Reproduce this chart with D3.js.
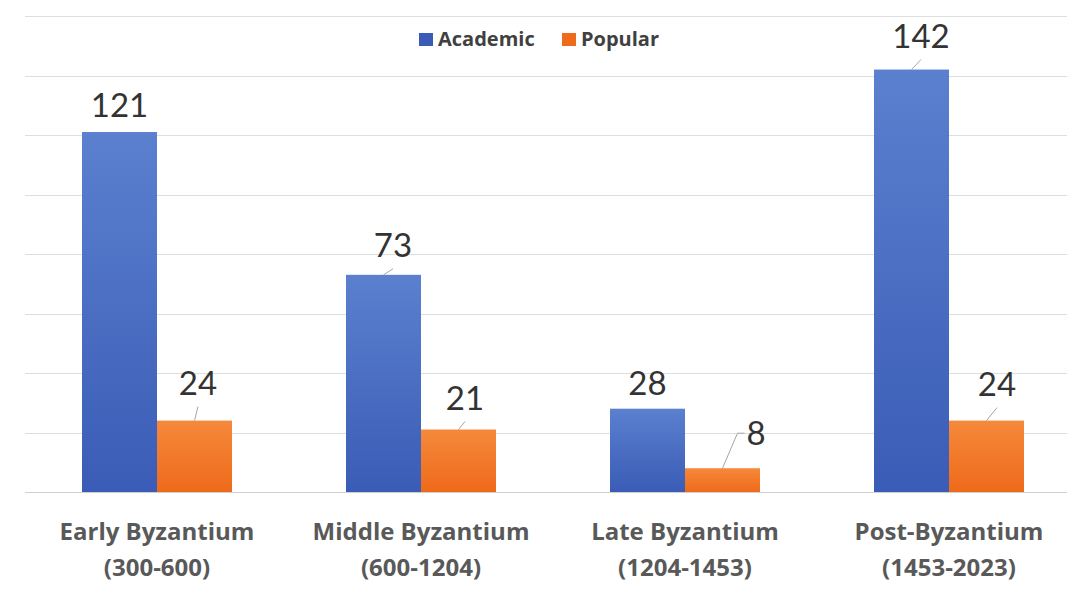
<!DOCTYPE html>
<meta charset="utf-8">
<script src="https://d3js.org/d3.v7.min.js"></script>
<style>
  body { margin: 0; background: #fff; }
  text { font-family: Lato, "Open Sans", sans-serif; }
</style>
<svg id="chart" width="1085" height="603"></svg>

<script>

// data
const periods = ["Early Byzantium", "Middle Byzantium", "Late Byzantium", "Post-Byzantium"];
const spans = ["(300-600)", "(600-1204)", "(1204-1453)", "(1453-2023)"];
const seriesNames = ["Academic", "Popular"];
const academic = [121, 73, 28, 142];
const popular = [24, 21, 8, 24];
const yTicks = [0, 20, 40, 60, 80, 100, 120, 140, 160];

// label nudges (layout only): [dx, dy] from bar top centre
const labelNudge = {
  Academic: [[0, -15], [9.5, -18], [0, -14], [9.5, -22]],
  Popular: [[3.5, -26], [6.5, -20], [0, 0], [10.5, -25]]
};

const svg = d3.select("#chart"),
  width = +svg.attr("width"),
  height = +svg.attr("height");

const margin = {left: 25, right: 4, top: 16, bottom: 111};

const x = d3.scaleBand()
  .domain(periods)
  .range([margin.left, width - margin.right])
  .paddingInner(0)
  .paddingOuter(0);

const x1 = d3.scaleBand()
  .domain(seriesNames)
  .range([0, 150]);

const y = d3.scaleLinear()
  .domain([0, 160])
  .range([height - margin.bottom, margin.top]);

const colors = {
  Academic: ["#5b80cf", "#3a5cb6"],
  Popular: ["#f5893b", "#ef6a1b"]
};

// gradients
const defs = svg.append("defs");
seriesNames.forEach(function(s) {
  const g = defs.append("linearGradient")
    .attr("id", "grad-" + s)
    .attr("x1", 0).attr("y1", 0).attr("x2", 0).attr("y2", 1);
  g.append("stop").attr("offset", "0%").attr("stop-color", colors[s][0]);
  g.append("stop").attr("offset", "100%").attr("stop-color", colors[s][1]);
});

// gridlines
svg.append("g")
  .selectAll("line")
  .data(yTicks)
  .join("line")
  .attr("x1", margin.left)
  .attr("x2", 1067)
  .attr("y1", d => Math.round(y(d)) + 0.5)
  .attr("y2", d => Math.round(y(d)) + 0.5)
  .attr("stroke", d => d === 0 ? "#cfcfcf" : "#dedede")
  .attr("stroke-width", 1);

// bars
const rows = [];
periods.forEach(function(p, i) {
  rows.push({period: p, series: "Academic", value: academic[i], i: i});
  rows.push({period: p, series: "Popular", value: popular[i], i: i});
});

const groupOffset = (x.bandwidth() - 150) / 2;

svg.append("g")
  .selectAll("rect")
  .data(rows)
  .join("rect")
  .attr("x", d => x(d.period) + groupOffset + x1(d.series))
  .attr("y", d => y(d.value))
  .attr("width", x1.bandwidth())
  .attr("height", d => y(0) - y(d.value))
  .attr("fill", d => "url(#grad-" + d.series + ")");

// value labels with leader lines
const lab = svg.append("g");
rows.forEach(function(d) {
  const cx = x(d.period) + groupOffset + x1(d.series) + x1.bandwidth() / 2;
  const top = y(d.value);
  if (d.series === "Popular" && d.value === 8) {
    // side label with elbow leader
    lab.append("polyline")
      .attr("points", [[cx, top], [cx + 15, top - 35], [cx + 22, top - 35]].map(p => p.join(",")).join(" "))
      .attr("fill", "none")
      .attr("stroke", "#a6a6a6")
      .attr("stroke-width", 1);
    lab.append("text")
      .attr("x", cx + 24)
      .attr("y", top - 23)
      .attr("font-size", 33)
      .attr("fill", "#333")
      .text(d.value);
    return;
  }
  const n = labelNudge[d.series][d.i];
  const lx = cx + n[0], ly = top + n[1];
  if (n[0] !== 0) {
    lab.append("line")
      .attr("x1", cx).attr("y1", top)
      .attr("x2", lx).attr("y2", ly + 12)
      .attr("stroke", "#a6a6a6")
      .attr("stroke-width", 1);
  }
  lab.append("text")
    .attr("x", lx)
    .attr("y", ly)
    .attr("text-anchor", "middle")
    .attr("font-size", 33)
    .attr("fill", "#333")
    .text(d.value);
});

// category labels
const cat = svg.append("g")
  .selectAll("text")
  .data(periods)
  .join("text")
  .attr("x", d => x(d) + x.bandwidth() / 2)
  .attr("y", 540)
  .attr("text-anchor", "middle")
  .style("font-family", "'Open Sans', sans-serif")
  .attr("font-size", 24)
  .attr("font-weight", "bold")
  .attr("fill", "#595959");
cat.append("tspan").text(d => d);
cat.append("tspan")
  .attr("x", d => x(d) + x.bandwidth() / 2)
  .attr("dy", 36)
  .text((d, i) => spans[i]);

// legend
const legend = svg.append("g");
const legendX = [419, 562];
seriesNames.forEach(function(s, i) {
  legend.append("rect")
    .attr("x", legendX[i]).attr("y", 33)
    .attr("width", 14).attr("height", 13)
    .attr("fill", colors[s][1]);
  legend.append("text")
    .attr("x", legendX[i] + 19)
    .attr("y", 46)
    .style("font-family", "'Open Sans', sans-serif")
    .attr("font-size", 20)
    .attr("font-weight", "bold")
    .attr("fill", "#404040")
    .text(s);
});

</script>
